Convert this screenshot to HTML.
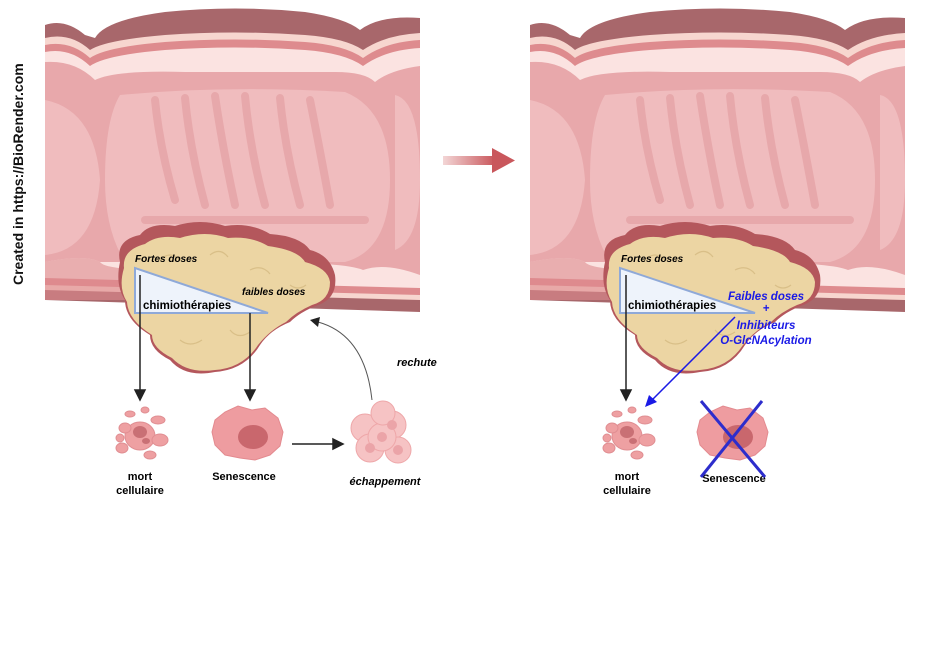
<!DOCTYPE html>
<html><head><meta charset="utf-8"><style>
html,body{margin:0;padding:0;background:#fff;width:945px;height:650px;overflow:hidden}
svg text{font-family:"Liberation Sans",sans-serif;font-weight:bold}
</style></head><body>
<svg width="945" height="650" viewBox="0 0 945 650" xmlns="http://www.w3.org/2000/svg">
<defs>
<g id="colon">
  <path d="M0,25 Q20,18 40,35 L50,38 Q60,20 120,12 Q190,5 260,12 Q300,18 315,30 Q335,15 375,18 L375,312 L0,300 Z" fill="#a8676b"/>
  <path d="M0,38 Q25,32 45,50 Q60,40 120,35 Q190,30 260,35 Q300,38 318,50 Q340,35 375,33 L375,300 L0,290 Z" fill="#f7d6cf"/>
  <path d="M0,45 Q25,40 45,58 Q60,47 120,42 Q190,37 260,42 Q300,45 318,58 Q340,42 375,40 L375,295 L0,285 Z" fill="#de8b8e"/>
  <path d="M0,52 Q25,47 45,66 Q60,55 120,50 Q190,45 260,50 Q300,53 318,66 Q340,50 375,48 L375,288 L0,278 Z" fill="#fbe3e1"/>
  <path d="M0,62 Q30,60 50,80 Q70,70 140,72 Q220,72 290,72 Q320,72 330,82 Q345,70 375,66 L375,275 Q340,262 318,270 Q300,262 200,262 Q100,262 55,262 Q40,254 0,262 Z" fill="#e8a8ab"/>
  <path d="M75,95 Q180,85 300,92 Q345,110 345,180 Q345,250 300,262 L80,262 Q60,230 60,180 Q60,120 75,95 Z" fill="#f0bcbe"/>
  <path d="M0,100 Q50,110 55,180 Q50,250 0,255 Z" fill="#f0bcbe"/>
  <path d="M350,95 Q375,100 375,180 Q375,240 350,250 Z" fill="#f0bcbe"/>
  <g stroke="#e6a4a7" stroke-width="8" fill="none" stroke-linecap="round" opacity="0.8">
    <path d="M110,100 Q115,150 130,200"/><path d="M140,98 Q145,150 160,205"/><path d="M170,96 Q178,150 190,205"/>
    <path d="M200,96 Q205,150 220,205"/><path d="M235,98 Q240,150 255,205"/><path d="M265,100 Q275,150 285,205"/>
    <path d="M100,220 L320,220"/>
  </g>
  <path d="M0,262 Q40,254 55,262 Q60,270 120,270 L120,300 L0,300 Z" fill="#de8b8e" opacity="0.6"/>
</g>
<g id="tumor">
  <path d="M120,262 Q115,240 140,235 Q150,222 175,226 Q200,218 225,226 Q250,222 270,234 Q300,236 310,250 Q330,255 335,275 Q338,298 318,305 Q300,312 290,322 Q270,330 260,345 Q245,370 215,372 Q185,378 170,360 Q150,350 150,335 Q125,320 125,300 Q115,285 120,262 Z" fill="#b4575c"/>
  <path d="M124,268 Q122,250 145,244 Q158,234 180,238 Q205,230 228,238 Q252,236 268,246 Q298,250 305,262 Q328,268 330,282 Q330,300 312,305 Q296,312 286,322 Q270,330 258,345 Q243,368 215,370 Q187,374 172,358 Q152,348 152,335 Q128,320 127,302 Q118,288 124,268 Z" fill="#ecd5a3"/>
  <g stroke="#d9bf88" stroke-width="1.2" fill="none">
    <path d="M160,260 q10,-10 20,0"/><path d="M210,255 q10,-8 18,2"/><path d="M250,270 q12,-6 20,4"/><path d="M180,340 q10,8 22,0"/><path d="M230,330 q8,10 20,2"/><path d="M290,285 q8,6 16,0"/>
  </g>
</g>
</defs>
<text transform="translate(23,285) rotate(-90)" font-size="14" fill="#111">Created in  https://BioRender.com</text>

<use href="#colon" x="45" y="0"/>
<use href="#tumor" x="0" y="0"/>
<use href="#colon" x="530" y="0"/>
<use href="#tumor" x="485" y="0"/>

<!-- left panel -->
<polygon points="135,268 135,313 268,313" fill="#eef3fb" stroke="#8fa9d8" stroke-width="2"/>
<text x="135" y="262" font-size="10" font-style="italic">Fortes doses</text>
<text x="242" y="295" font-size="10" font-style="italic">faibles doses</text>
<text x="143" y="309" font-size="11.5" font-weight="normal" style="font-weight:bold">chimiothérapies</text>
<g stroke="#222" stroke-width="1.5" fill="#222">
  <line x1="140" y1="275" x2="140" y2="392"/><polygon points="135,390 145,390 140,400"/>
  <line x1="250" y1="313" x2="250" y2="392"/><polygon points="245,390 255,390 250,400"/>
  <line x1="292" y1="444" x2="335" y2="444"/><polygon points="333,439 343,444 333,449"/>
</g>
<path d="M372,400 Q365,335 318,322" stroke="#555" stroke-width="1" fill="none"/>
<polygon points="310,320 320,317 318,327" fill="#222"/>
<text x="397" y="366" font-size="11" font-style="italic">rechute</text>

<g id="dead">
<g fill="#eea0a2" stroke="#e08e92" stroke-width="1">
  <ellipse cx="140" cy="436" rx="15" ry="14"/><ellipse cx="125" cy="428" rx="6" ry="5"/><ellipse cx="158" cy="420" rx="7" ry="4"/>
  <ellipse cx="160" cy="440" rx="8" ry="6"/><ellipse cx="122" cy="448" rx="6" ry="5"/><ellipse cx="150" cy="455" rx="6" ry="4"/>
  <ellipse cx="130" cy="414" rx="5" ry="3"/><ellipse cx="145" cy="410" rx="4" ry="3"/><ellipse cx="120" cy="438" rx="4" ry="4"/>
</g>
<ellipse cx="140" cy="432" rx="7" ry="6" fill="#c97075"/><ellipse cx="146" cy="441" rx="4" ry="3" fill="#c97075"/>
<text x="140" y="480" font-size="11" text-anchor="middle">mort</text>
<text x="140" y="494" font-size="11" text-anchor="middle">cellulaire</text>
</g>
<path d="M215,420 L225,412 L238,406 L252,410 L265,408 L278,418 L283,432 L280,446 L270,455 L255,460 L240,458 L225,455 L215,445 L212,432 Z" fill="#ee9ca0" stroke="#e38a8f"/>
<ellipse cx="253" cy="437" rx="15" ry="12" fill="#c9676d"/>
<text x="244" y="480" font-size="11" text-anchor="middle">Senescence</text>
<g fill="#f6c3c4" stroke="#eea7a9">
  <circle cx="365" cy="428" r="14"/><circle cx="392" cy="425" r="14"/><circle cx="370" cy="448" r="14"/><circle cx="398" cy="450" r="13"/><circle cx="382" cy="437" r="14"/><circle cx="383" cy="413" r="12"/>
</g>
<g fill="#eba4a8"><circle cx="392" cy="425" r="5"/><circle cx="370" cy="448" r="5"/><circle cx="398" cy="450" r="5"/><circle cx="382" cy="437" r="5"/></g>
<text x="385" y="485" font-size="11" font-style="italic" text-anchor="middle">échappement</text>

<!-- middle arrow -->
<defs><linearGradient id="ga" x1="0" x2="1"><stop offset="0" stop-color="#f3d6d6"/><stop offset="1" stop-color="#c9575c"/></linearGradient></defs>
<rect x="443" y="156" width="52" height="9" fill="url(#ga)"/>
<polygon points="492,148 515,160.5 492,173" fill="#c9575c"/>

<!-- right panel -->
<polygon points="620,268 620,313 755,313" fill="#eef3fb" stroke="#8fa9d8" stroke-width="2"/>
<text x="621" y="262" font-size="10" font-style="italic">Fortes doses</text>
<text x="628" y="309" font-size="11.5">chimiothérapies</text>
<g stroke="#222" stroke-width="1.5" fill="#222">
  <line x1="626" y1="275" x2="626" y2="392"/><polygon points="621,390 631,390 626,400"/>
</g>
<line x1="735" y1="317" x2="652" y2="400" stroke="#1a1ae6" stroke-width="1.5"/>
<polygon points="645,407 649,395 657,402" fill="#1a1ae6"/>
<g fill="#1a1ae6" font-size="11.5" font-style="italic" text-anchor="middle">
<text x="766" y="300">Faibles doses</text><text x="766" y="312">+</text><text x="766" y="329">Inhibiteurs</text><text x="766" y="344">O-GlcNAcylation</text>
</g>
<use href="#dead" x="487" y="0"/>
<path d="M700,420 L710,412 L723,406 L737,410 L750,408 L763,418 L768,432 L765,446 L755,455 L740,460 L725,458 L710,455 L700,445 L697,432 Z" fill="#ee9ca0" stroke="#e38a8f"/>
<ellipse cx="738" cy="437" rx="15" ry="12" fill="#c9676d"/>
<text x="734" y="482" font-size="11" text-anchor="middle">Senescence</text>
<g stroke="#2d2dcc" stroke-width="3"><line x1="701" y1="401" x2="765" y2="477"/><line x1="762" y1="401" x2="701" y2="477"/></g>
</svg>
</body></html>
